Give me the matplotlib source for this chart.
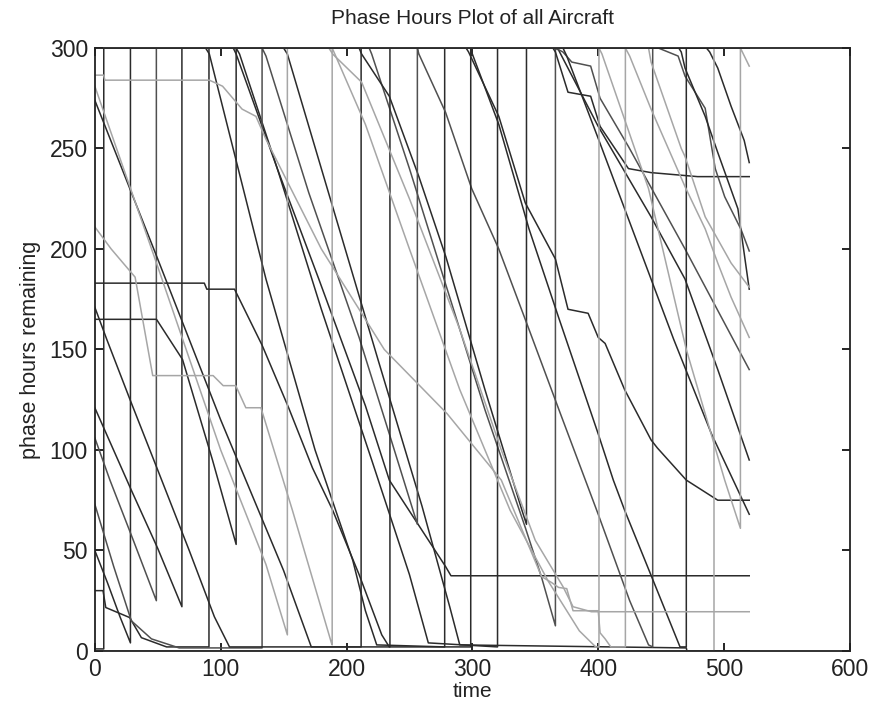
import numpy as np
import matplotlib
matplotlib.use('Agg')
import matplotlib.pyplot as plt

# phase hours remaining per aircraft, as (time, hours) break points
ac01 = [(0, 1), (7.1, 1), (7.1, 300), (88, 300), (91, 297), (136, 185), (175, 100), (205, 45), (215, 20),
        (224, 3), (278, 2), (278, 300), (366, 300), (368.5, 299), (400, 261), (442, 216), (469, 185),
        (495, 140), (520, 95)]
ac02 = [(0, 50), (10, 34), (20, 17), (28.3, 4), (28.3, 300), (110, 300), (112.3, 297), (145, 240), (178, 185),
        (215, 122), (234, 85), (278.7, 42), (283, 37.4), (520, 37.4)]
ac03 = [(0, 106), (12, 85), (30, 56), (48.9, 25), (48.9, 300), (218, 300), (220, 297), (250, 240), (280, 180),
        (310, 120), (342, 61.5), (355, 36.6), (366, 12.5), (366, 300), (372, 298), (379, 293), (394, 291),
        (401.5, 275), (424, 251), (469, 200), (520, 140)]
ac04 = [(0, 121), (29, 80), (50, 51), (69.2, 22), (69.2, 300), (150, 300), (153, 297), (189, 221), (225, 145),
        (260, 72), (282, 22), (290, 3), (470, 1.5), (470.5, 0), (520, 0)]
ac05 = [(0, 30), (6.5, 30), (8.7, 21.6), (27.7, 16.6), (37, 6.6), (57, 2), (90.7, 2), (90.7, 300), (210, 300),
        (212, 297), (234, 276), (257.5, 236), (279, 196), (310, 130), (339.4, 70), (343, 63), (343, 300),
        (364, 300), (366, 298), (376, 278), (394, 276), (401.5, 261), (424, 240), (442, 238), (479, 236),
        (520, 236)]
ac06 = [(0, 165), (49, 165), (69.7, 145), (93.5, 95), (112.3, 53), (112.3, 300), (115, 297), (145, 240),
        (180, 170), (220, 95), (250, 38), (265, 4), (320, 2), (320, 300), (486, 300), (488.6, 298), (495, 290),
        (505.6, 271), (516, 254), (520, 243)]
ac07 = [(0, 73), (15, 42), (29, 15), (45, 6), (67, 1.5), (132.9, 1.5), (132.9, 300), (136, 296), (170, 228),
        (210, 156), (234, 108), (256.3, 63), (256.3, 300), (257.5, 297), (278.7, 268), (299.5, 230), (321, 200),
        (345, 160), (370, 118), (400, 68), (425, 25), (440, 3), (443.3, 2), (443.3, 300), (447.7, 300),
        (463.5, 296), (469, 286), (485, 270), (493, 240), (500.5, 226), (513.5, 209.7), (520, 199)]
ac08 = [(0, 274), (50, 195), (100, 115), (150, 40), (172, 2), (234.5, 2), (234.5, 300), (372, 300), (375, 296),
        (400, 255), (430, 205), (460, 155), (490, 108), (520, 68)]
ac09 = [(0, 183), (87, 183), (89, 180), (111, 180), (133, 152), (154, 121), (173, 91), (189, 70), (210, 38),
        (228, 8), (234, 2), (298.7, 2), (298.7, 300), (300, 297), (321, 262), (345, 210), (368.5, 166),
        (400, 108), (412, 85), (421, 70), (443.7, 35), (465, 2), (470, 2), (470, 300), (520, 300)]
ac10 = [(0, 171), (9.5, 155), (28, 125), (50, 90), (75, 50), (95, 17), (107, 2), (211.6, 2), (211.6, 300),
        (295, 300), (297, 298), (321, 266), (342, 223), (366, 195), (376, 170), (392, 168), (400, 156),
        (405.5, 153), (421, 130), (442, 105), (447, 101), (470, 85), (495, 75), (520, 75)]
ac11 = [(0, 286.5), (7, 286.5), (8, 284), (91, 284), (101.5, 281), (117, 269.6), (128, 266), (136, 254.6),
        (180, 200), (230, 150), (280, 118), (323, 85), (355, 37), (363, 34), (368.5, 31.6), (375, 31), (380, 20),
        (400, 20), (401.5, 9), (405.5, 6), (410, 2), (421.6, 2), (421.6, 300), (425, 296), (442, 269.6),
        (469, 231), (485, 210), (495, 193), (505.6, 176), (520, 156)]
ac12 = [(0, 281), (49, 193), (100, 100), (136, 43), (153, 8), (153, 300), (186, 300), (189, 297), (212, 283),
        (250, 225), (290, 160), (323, 100), (350, 55), (372, 32), (380, 22), (394.6, 19.5), (520, 19.5)]
ac13 = [(0, 211), (13, 200), (32, 186), (46, 137), (94, 137), (102, 132), (112, 132), (120, 121), (132, 121),
        (157, 70), (188, 4), (188.6, 3), (188.6, 300), (190, 298), (215, 262), (250, 200), (290, 130), (330, 70),
        (360, 35), (385, 10), (398, 2), (400.6, 2), (400.6, 300), (403, 297), (440, 230), (470, 150),
        (500.5, 85), (513, 61), (513, 300), (520, 291)]
ac14 = [(0, 300), (440, 300), (442, 293), (466, 250), (469, 246), (485, 216), (505.6, 193), (520, 181)]
ac15 = [(0, 300), (464, 300), (466, 298), (469, 290), (485, 266), (495, 248), (511, 220), (520, 180)]
ac16 = [(0, 0), (492, 0), (492, 300), (520, 300)]

dark = '#2b2b2b'
mid = '#505050'
light = '#a6a6a6'
fleet = [(ac01, dark), (ac02, dark), (ac03, mid), (ac04, dark), (ac05, dark), (ac06, dark), (ac07, mid),
         (ac08, dark), (ac09, dark), (ac10, dark), (ac15, dark), (ac11, light), (ac12, light), (ac13, light),
         (ac14, light), (ac16, light)]

plt.rcParams['font.family'] = ['Liberation Sans', 'DejaVu Sans']

fig = plt.figure(figsize=(8.78, 7.06), dpi=100)
ax = fig.add_axes([0.108, 0.078, 0.860, 0.854])

for path, shade in fleet:
    t, v = np.array(path).T
    ax.plot(t, v, color=shade, linewidth=1.1)

ax.set_xlim(0, 600)
ax.set_ylim(0, 300)
ax.set_xticks(range(0, 601, 100))
ax.set_yticks(range(0, 301, 50))
ax.tick_params(direction='in', top=True, right=True, length=6, width=1.2,
               labelsize=16.5, labelcolor='#222222', pad=5)
for s in ax.spines.values():
    s.set_linewidth(1.3)
    s.set_color('#222222')

ax.set_title('Phase Hours Plot of all Aircraft', fontsize=15, color='#222222', pad=17)
ax.set_xlabel('time', fontsize=15, color='#222222', labelpad=1)
ax.set_ylabel('phase hours remaining', fontsize=15.5, color='#222222', labelpad=6)

fig.savefig('out.png', dpi=100)
